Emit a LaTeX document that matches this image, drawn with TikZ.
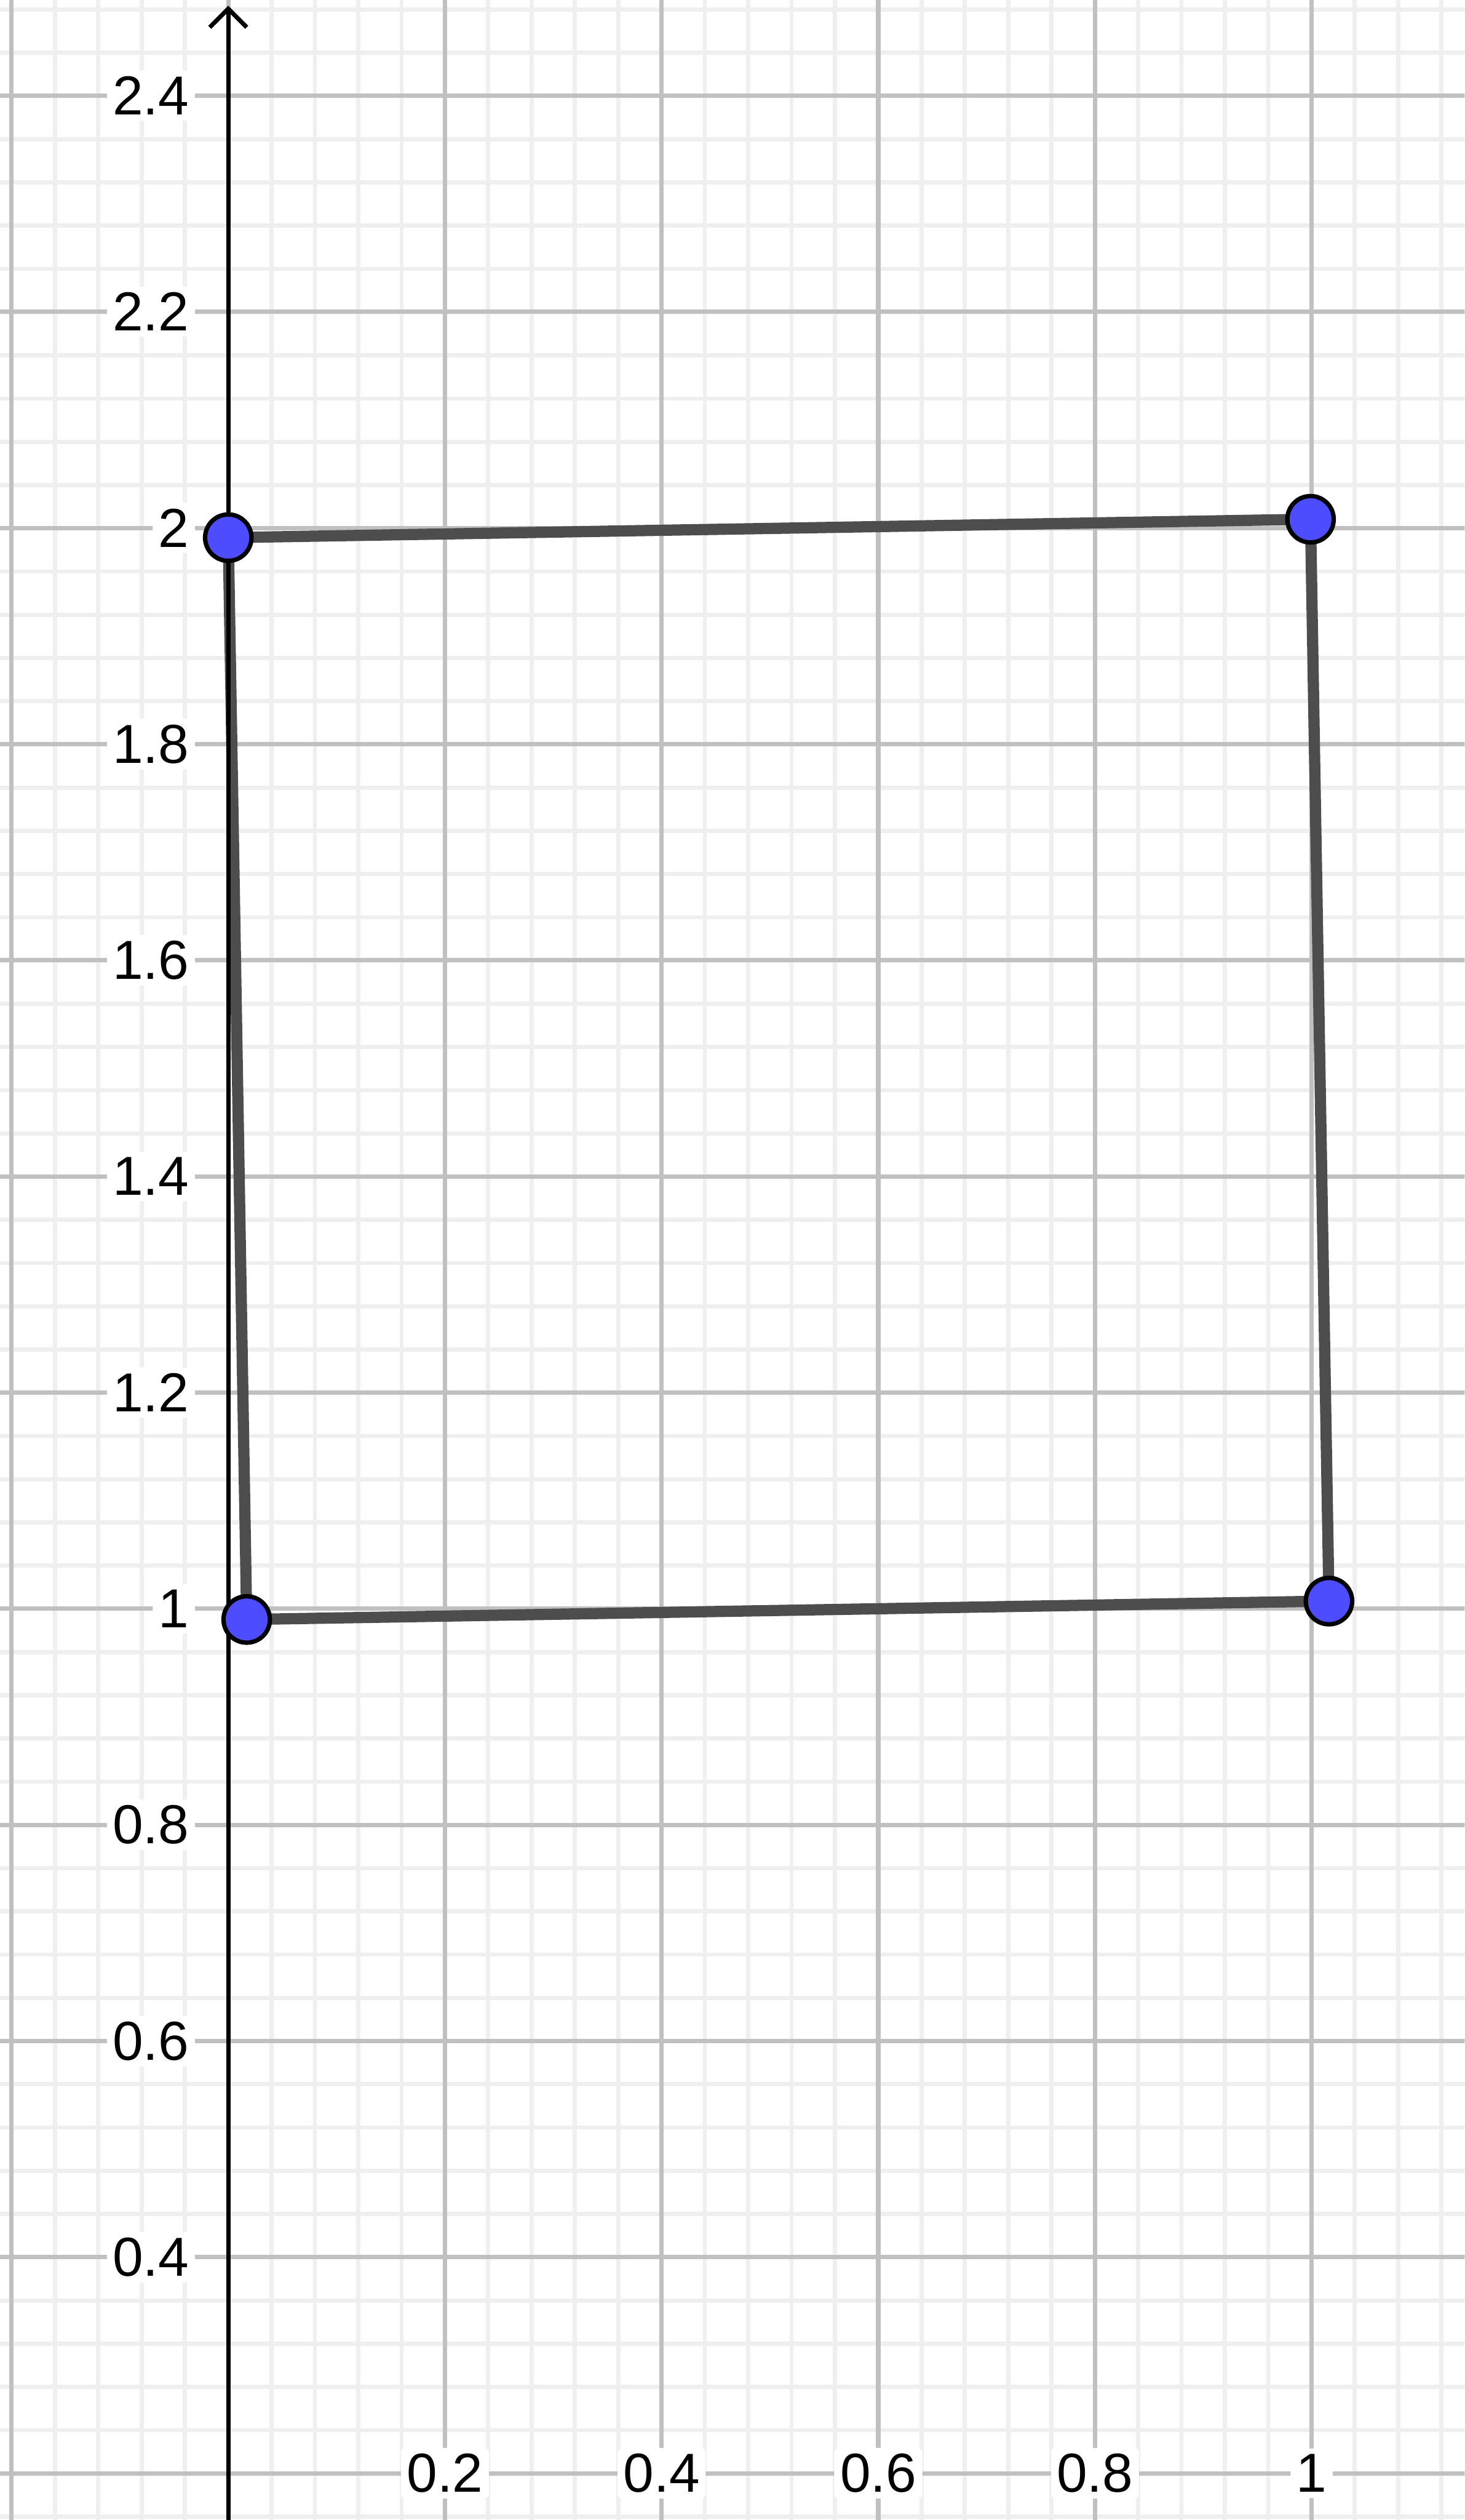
\documentclass[tikz,border=0pt]{standalone}
\usepackage{fontspec}
\setmainfont{Liberation Sans}
\definecolor{gridmajor}{RGB}{192,192,192}
\definecolor{gridminor}{RGB}{239,239,239}
\definecolor{segcol}{RGB}{77,77,77}
\definecolor{ptfill}{RGB}{77,77,255}
\begin{document}
\begin{tikzpicture}[x=22.19cm,y=22.13cm,
  minorline/.style={gridminor,line width=0.085cm},
  majorline/.style={gridmajor,line width=0.09cm},
  axisline/.style={black,line width=0.09cm},
  seg/.style={segcol,line width=0.23cm,line join=round},
  pt/.style={circle,draw=black,fill=ptfill,line width=0.09cm,minimum size=0.95cm,inner sep=0pt},
  lab/.style={fill=white,rounded corners=0.1cm,inner sep=0.12cm,text=black,font=\fontsize{32}{38}\selectfont},
  ylab/.style={lab,anchor=east},
  xlab/.style={lab,anchor=center}]
\useasboundingbox (-0.210726,0.156801) rectangle (1.141235,2.488477);
\fill[white] (-0.210726,0.156801) rectangle (1.141235,2.488477);
\clip (-0.210726,0.156801) rectangle (1.141235,2.488477);
% minor grid
\foreach \i in {-5,...,28} \draw[minorline] (\i*0.04,0.1) -- (\i*0.04,2.6);
\foreach \j in {4,...,62} \draw[minorline] (-0.3,\j*0.04) -- (1.2,\j*0.04);
% major grid
\foreach \i in {-1,...,5} \draw[majorline] (\i*0.2,0.1) -- (\i*0.2,2.6);
\foreach \j in {1,...,12} \draw[majorline] (-0.3,\j*0.2) -- (1.2,\j*0.2);
% labels
\foreach \t [count=\k] in {0.4,0.6,0.8,1,1.2,1.4,1.6,1.8,2,2.2,2.4}
  \node[ylab] (yl\k) at (-0.030464,\t) {\t};
\foreach \t [count=\k] in {0.2,0.4,0.6,0.8,1}
  \node[xlab] (xl\k) at (\t,0.2) {\t};
% quadrilateral
\coordinate (A) at (0,1.991);
\coordinate (B) at (0.999,2.008);
\coordinate (C) at (1.016,1.007);
\coordinate (D) at (0.017,0.990);
\draw[seg] (A) -- (B) -- (C) -- (D) -- cycle;
% y axis
\coordinate (ybot) at (0,0.1);
\coordinate (ytip) at (0,2.48034);
\draw[axisline] (ybot) -- (ytip);
\draw[axisline,line join=miter] ([xshift=-0.38cm,yshift=-0.38cm]ytip) -- (ytip) -- ([xshift=0.38cm,yshift=-0.38cm]ytip);
% points
\node[pt] (pA) at (A) {};
\node[pt] (pB) at (B) {};
\node[pt] (pC) at (C) {};
\node[pt] (pD) at (D) {};
\end{tikzpicture}
\end{document}
